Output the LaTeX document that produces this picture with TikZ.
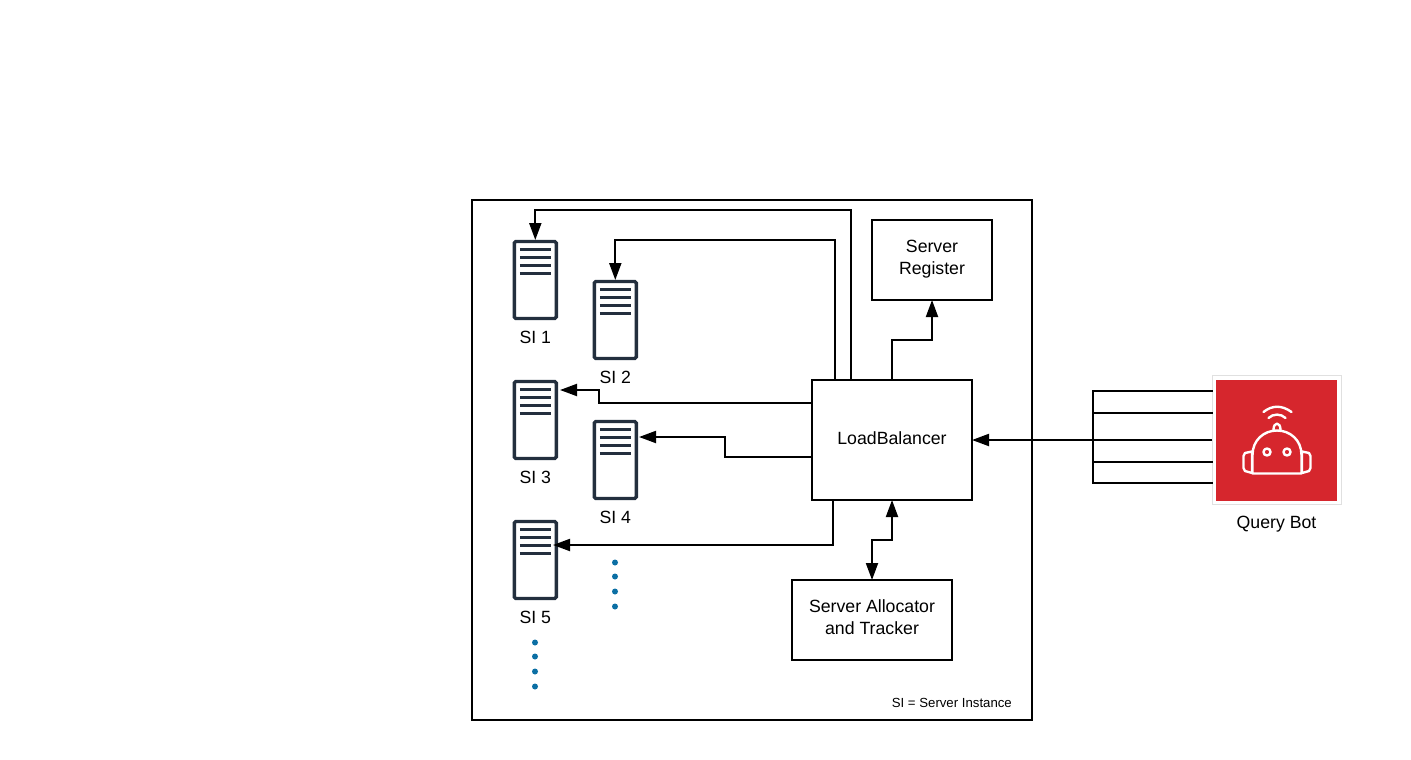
\documentclass[tikz,border=0pt]{standalone}
\usepackage{fontspec}
\setmainfont{Liberation Sans}
\usetikzlibrary{arrows.meta,calc}
\definecolor{servercol}{HTML}{232F3E}
\definecolor{botred}{HTML}{D6262D}
\definecolor{dotcol}{HTML}{0B6FA4}
\begin{document}
\begin{tikzpicture}[
    x=1pt,
    y=-1pt,
    >={Triangle[length=17pt,width=12pt]},
    font=\fontsize{17.7}{22}\selectfont,
    box/.style={draw=black,line width=2pt,inner sep=0pt,outer sep=0pt,align=center,fill=white},
    serverbox/.style={draw=servercol,line width=3.4pt,rounded corners=1.5pt,minimum width=42pt,minimum height=77pt,inner sep=0pt,outer sep=1.5pt,fill=white},
    serverbar/.style={draw=servercol,line width=3pt},
    flow/.style={line width=2pt,->},
    wire/.style={line width=2pt,line cap=rect},
    moredot/.style={circle,fill=dotcol,inner sep=0pt,minimum size=6pt},
    boticon/.style={draw=white,line width=2.4pt,line join=round,line cap=round}
]
    \useasboundingbox (0,0) rectangle (1411,760);

    % Outer frame
    \draw[line width=2pt] (472,200) rectangle (1032,720);
    \node[anchor=east,inner sep=0pt,font=\fontsize{13.2}{16}\selectfont] (note) at (1012,703) {SI = Server Instance};

    % Boxes
    \node[box,minimum width=120pt,minimum height=80pt] (register) at (932,260) {};
    \node[align=center] (registertext) at (932,259) {Server\\Register};
    \node[box,minimum width=160pt,minimum height=120pt] (lb) at (892,440) {};
    \node (lbtext) at (892,438) {LoadBalancer};
    \node[box,minimum width=160pt,minimum height=80pt] (alloc) at (872,620) {};
    \node[align=center] (alloctext) at (872,617) {Server Allocator\\and Tracker};

    % Server instances
    \foreach \nm/\xx/\yy/\txt in {si1/535.3/280/SI 1,si2/615.3/320/SI 2,si3/535.3/420/SI 3,si4/615.3/460/SI 4,si5/535.3/560/SI 5} {
        \node[serverbox] (\nm) at (\xx,\yy) {};
        \foreach \dy in {-30.7,-22.7,-14.7,-6.7}
            \draw[serverbar] (\xx-15.5,\yy+\dy) -- (\xx+15.5,\yy+\dy);
        \node (\nm txt) at (\xx,\yy+57.5) {\txt};
    }

    % Dots under the instances
    \foreach \yy [count=\i] in {562.5,576.5,591.5,606.5}
        \node[moredot] (dotb\i) at (615,\yy) {};
    \foreach \yy [count=\i] in {642.5,656.5,671.5,686.5}
        \node[moredot] (dota\i) at (535,\yy) {};

    % Connectors from the balancer
    \coordinate (outa) at (851,380);
    \coordinate (outb) at (835,380);
    \coordinate (outc) at (812,403);
    \coordinate (outd) at (812,457);
    \coordinate (oute) at (833,500);
    \coordinate (ina) at (560,390);
    \coordinate (inb) at (639,437);
    \coordinate (inc) at (553,545);
    \draw[flow] (outa) -- (851,210) -- (535.3,210) -- (si1.north);
    \draw[flow] (outb) -- (835,240) -- (615.3,240) -- (si2.north);
    \draw[flow] (outc) -- (599,403) -- (599,390) -- (ina);
    \draw[flow] (outd) -- (725,457) -- (725,437) -- (inb);
    \draw[flow] (oute) -- (833,545) -- (inc);
    \draw[flow] (lb.north) -- (892,340) -- (932,340) -- (register.south);
    \draw[flow,<->] (alloc.north) -- (872,540) -- (892,540) -- (lb.south);

    % Query bot
    \node[draw=black!12,line width=1pt,fill=white,minimum size=129pt,inner sep=0pt] (botframe) at (1276.5,440) {};
    \node[fill=botred,minimum size=121pt,inner sep=0pt] (bot) at (1276.5,440) {};
    \node (bottext) at (1276.5,524) {Query Bot};
    \foreach \yy [count=\i] in {391,413,462,483} {
        \coordinate (wire\i) at (1212,\yy);
        \draw[wire] (wire\i) -- (1093,\yy);
    }
    \draw[wire] (1093,391) -- (1093,483);
    \coordinate (botout) at (1212,440);
    \draw[flow] (botout) -- (lb.east);

    % Robot
    \draw[boticon] (1245,453) -- (1252,451.5) -- (1252,473) -- (1245,471) -- (1243.5,468) -- (1243.5,456) -- cycle;
    \draw[boticon] (1309,453) -- (1302,451.5) -- (1302,473) -- (1309,471) -- (1310.5,468) -- (1310.5,456) -- cycle;
    \draw[boticon,fill=botred] (1252.5,473.5) -- (1252.5,455)
        .. controls (1252.5,440) and (1264,430.5) .. (1277,430.5)
        .. controls (1290,430.5) and (1301.5,440) .. (1301.5,455) -- (1301.5,473.5) -- cycle;
    \draw[boticon] (1273.5,430) .. controls (1273.5,421.5) and (1280.5,421.5) .. (1280.5,430);
    \draw[boticon] (1267,452) circle (3.5);
    \draw[boticon] (1287,452) circle (3.5);
    \draw[boticon] (1263.5,412) .. controls (1272,405) and (1282,405) .. (1291.5,412);
    \draw[boticon] (1268.5,418) .. controls (1273,413.5) and (1281,413.5) .. (1285.5,418);
\end{tikzpicture}
\end{document}
